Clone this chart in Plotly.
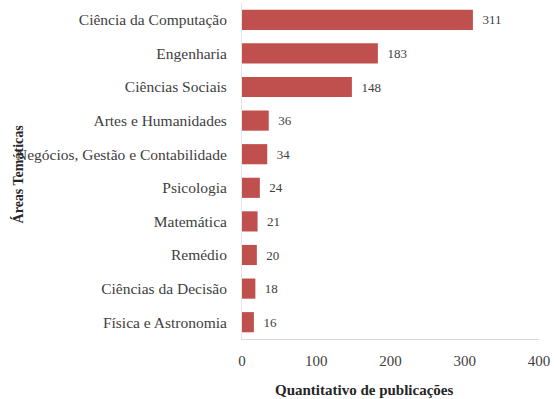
import plotly.graph_objects as go

categories = ["Ciência da Computação", "Engenharia", "Ciências Sociais", "Artes e Humanidades",
              "Negócios, Gestão e Contabilidade", "Psicologia", "Matemática", "Remédio",
              "Ciências da Decisão", "Física e Astronomia"]
values = [311, 183, 148, 36, 34, 24, 21, 20, 18, 16]
x_ticks = [0, 100, 200, 300, 400]

font_family = "Liberation Serif, Times New Roman, serif"
text_color = "#404040"

fig = go.Figure(go.Bar(
    y=categories, x=values, orientation="h",
    marker=dict(color="#c0504d", line=dict(width=0)),
    texttemplate="  %{x}", textposition="outside",
    textfont=dict(family=font_family, size=13, color=text_color),
    cliponaxis=False, width=0.6,
))

fig.update_layout(
    width=554, height=399,
    margin=dict(l=242, r=15, t=3, b=60),
    paper_bgcolor="white", plot_bgcolor="white",
    font=dict(family=font_family, size=14, color=text_color),
    showlegend=False,
    xaxis=dict(range=[0, 400], tickvals=x_ticks, showgrid=False, zeroline=False,
               showline=True, linecolor="#d9d9d9", linewidth=1, ticks="",
               ticklabelstandoff=8,
               tickfont=dict(family=font_family, size=15, color=text_color)),
    yaxis=dict(autorange="reversed", showgrid=False, zeroline=False, showline=True,
               linecolor="#e6e6e6", linewidth=1, ticks="", ticklabelstandoff=11,
               tickfont=dict(family=font_family, size=15.5, color=text_color)),
    annotations=[
        dict(text="<b>Quantitativo de publicações</b>", xref="paper", yref="paper",
             x=0.414, y=-0.152, xanchor="center", yanchor="middle", showarrow=False,
             font=dict(family=font_family, size=15, color="#262626")),
        dict(text="<b>Áreas Temáticas</b>", xref="paper", yref="paper",
             x=-0.754, y=0.49, xanchor="center", yanchor="middle", textangle=-90,
             showarrow=False, font=dict(family=font_family, size=14, color="#262626")),
    ],
)

fig.write_html("out.html")
